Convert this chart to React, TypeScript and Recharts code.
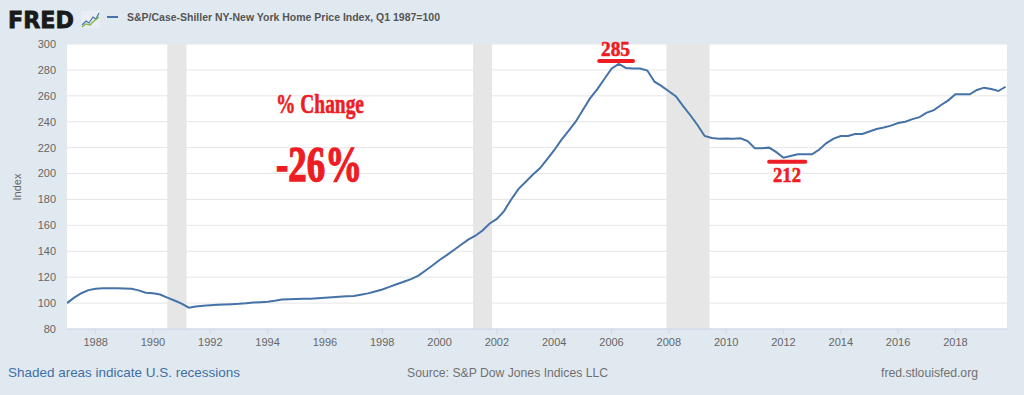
import {
  LineChart,
  Line,
  XAxis,
  YAxis,
  CartesianGrid,
  ReferenceArea,
  ReferenceLine,
} from "recharts";

// S&P/Case-Shiller NY-New York Home Price Index, quarterly, one row per year
const startYear = 1987;
const quarterlyIndex: number[][] = [
  [100.0, 104.2, 107.6, 110.0], // 1987
  [111.0, 111.4, 111.5, 111.4],
  [111.3, 111.1, 109.8, 108.0],
  [107.6, 106.6, 104.2, 102.0], // 1990
  [99.6, 96.5, 97.4, 98.0],
  [98.4, 98.7, 98.9, 99.2],
  [99.4, 99.8, 100.4, 100.7],
  [101.0, 101.8, 102.8, 103.0],
  [103.2, 103.3, 103.4, 103.8], // 1995
  [104.2, 104.6, 104.9, 105.2],
  [105.5, 106.5, 107.5, 109.0],
  [110.5, 112.5, 114.5, 116.5],
  [118.5, 121.0, 125.0, 129.0],
  [133.3, 137.0, 141.0, 145.0], // 2000
  [149.0, 152.0, 156.0, 161.5],
  [165.0, 171.0, 180.0, 188.0],
  [193.5, 199.0, 204.0, 211.0],
  [218.0, 226.0, 233.0, 240.0],
  [249.0, 258.0, 265.0, 273.0], // 2005
  [281.0, 284.6, 281.5, 281.0],
  [281.0, 279.5, 270.9, 267.5],
  [263.5, 259.5, 252.0, 245.0],
  [237.5, 229.0, 227.5, 226.8],
  [227.0, 226.8, 227.2, 225.0], // 2010
  [219.5, 219.6, 220.0, 216.5],
  [212.2, 213.5, 214.8, 214.8],
  [214.8, 218.5, 223.5, 227.0],
  [229.0, 229.0, 230.5, 230.5],
  [232.5, 234.4, 235.5, 237.0], // 2015
  [239.0, 240.0, 242.0, 243.5],
  [247.0, 249.0, 252.9, 256.5],
  [261.2, 261.2, 261.2, 264.5],
  [266.3, 265.2, 263.7, 267.0], // 2019
];

const xTicks = [1988, 1990, 1992, 1994, 1996, 1998, 2000, 2002, 2004, 2006, 2008, 2010, 2012, 2014, 2016, 2018];
const yTicks = [80, 100, 120, 140, 160, 180, 200, 220, 240, 260, 280, 300];

const recessions: [number, number][] = [
  [1990.5, 1991.17],
  [2001.17, 2001.83],
  [2007.92, 2009.42],
];

// red underlines under the hand-drawn peak / trough notes
const peakLine = { from: 2005.57, to: 2006.75, level: 286.9 };
const troughLine = { from: 2011.5, to: 2012.76, level: 209.1 };

const series = quarterlyIndex.flatMap((row, i) =>
  row.map((value, q) => ({ date: startYear + i + q / 4, value }))
);

const RED = "#ee1c24";
const SANS = '"Liberation Sans", Arial, sans-serif';
const SERIF = '"Liberation Serif", "Times New Roman", serif';

export default function App() {
  return (
    <div
      style={{
        position: "absolute",
        left: 0,
        top: 0,
        width: 1024,
        height: 395,
        background: "#e1e9f0",
        fontFamily: SANS,
        overflow: "hidden",
      }}
    >
      <LineChart
        width={1024}
        height={395}
        data={series}
        margin={{ top: 44, right: 17, bottom: 0, left: 0 }}
      >
        <CartesianGrid vertical={false} stroke="#e6e6e6" fill="#ffffff" fillOpacity={1} />
        <XAxis
          dataKey="date"
          type="number"
          domain={[1987, 2019.8]}
          allowDataOverflow
          ticks={xTicks}
          height={66}
          tickSize={5}
          tickMargin={4}
          axisLine={{ stroke: "#ccd6eb" }}
          tickLine={{ stroke: "#ccd6eb" }}
          tick={{ fill: "#666666", fontSize: 11 }}
        />
        <YAxis
          domain={[80, 300]}
          ticks={yTicks}
          width={67}
          axisLine={false}
          tickLine={false}
          tickSize={0}
          tickMargin={11}
          tick={{ fill: "#666666", fontSize: 11 }}
        />
        {recessions.map(([a, b]) => (
          <ReferenceArea
            key={a}
            x1={a}
            x2={b}
            fill="#e6e6e6"
            fillOpacity={1}
            stroke="none"
          />
        ))}
        <Line
          dataKey="value"
          type="linear"
          stroke="#4572a7"
          strokeWidth={2}
          dot={false}
          isAnimationActive={false}
        />
        {[peakLine, troughLine].map((m) => (
          <ReferenceLine
            key={m.level}
            segment={[
              { x: m.from, y: m.level },
              { x: m.to, y: m.level },
            ]}
            stroke={RED}
            strokeWidth={4}
            strokeLinecap="round"
            ifOverflow="visible"
          />
        ))}
      </LineChart>

      <svg
        width={1024}
        height={395}
        style={{ position: "absolute", left: 0, top: 0, pointerEvents: "none" }}
      >
        {/* header */}
        <text x={8} y={28} fontFamily='"DejaVu Sans", sans-serif' fontWeight="bold" fontSize={23} fill="#1a1a1a" stroke="#1a1a1a" strokeWidth={0.8} textLength={66} lengthAdjust="spacingAndGlyphs">
          FRED
        </text>
        <rect x={81} y={11} width={19} height={17} fill="#e8eef3" />
        <polyline points="82,25 86,21 89,23 93,17 96,19 99,13" fill="none" stroke="#4572a7" strokeWidth={1.2} />
        <polyline points="82,27 86,24 90,25 94,21 99,17" fill="none" stroke="#7cb342" strokeWidth={1.2} />
        <line x1={107} y1={17} x2={118} y2={17} stroke="#4572a7" strokeWidth={2} />
        <text x={127} y={21} fontFamily={SANS} fontWeight="bold" fontSize={11.5} fill="#555555" textLength={313} lengthAdjust="spacingAndGlyphs">
          S&amp;P/Case-Shiller NY-New York Home Price Index, Q1 1987=100
        </text>

        {/* y axis title */}
        <text x={17} y={187} transform="rotate(-90 17 187)" textAnchor="middle" dominantBaseline="central" fontFamily={SANS} fontSize={11} fill="#666666">
          Index
        </text>

        {/* annotations */}
        <text x={276} y={113} fontFamily={SERIF} fontWeight="bold" fontSize={27} fill={RED} stroke={RED} strokeWidth={0.6} textLength={88} lengthAdjust="spacingAndGlyphs">
          % Change
        </text>
        <text x={276} y={181} fontFamily={SERIF} fontWeight="bold" fontSize={50} fill={RED} stroke={RED} strokeWidth={1.4} textLength={86} lengthAdjust="spacingAndGlyphs">
          -26%
        </text>
        <text x={601} y={56} fontFamily={SERIF} fontWeight="bold" fontSize={21} fill={RED} stroke={RED} strokeWidth={0.6} textLength={29} lengthAdjust="spacingAndGlyphs">
          285
        </text>
        <text x={773} y={182} fontFamily={SERIF} fontWeight="bold" fontSize={21} fill={RED} stroke={RED} strokeWidth={0.6} textLength={28} lengthAdjust="spacingAndGlyphs">
          212
        </text>

        {/* footer */}
        <text x={8} y={377} fontFamily={SANS} fontSize={13} fill="#3d6fa6" textLength={232} lengthAdjust="spacingAndGlyphs">
          Shaded areas indicate U.S. recessions
        </text>
        <text x={407} y={377} fontFamily={SANS} fontSize={13} fill="#707070" textLength={201} lengthAdjust="spacingAndGlyphs">
          Source: S&amp;P Dow Jones Indices LLC
        </text>
        <text x={881} y={377} fontFamily={SANS} fontSize={13} fill="#707070" textLength={97} lengthAdjust="spacingAndGlyphs">
          fred.stlouisfed.org
        </text>
      </svg>
    </div>
  );
}
